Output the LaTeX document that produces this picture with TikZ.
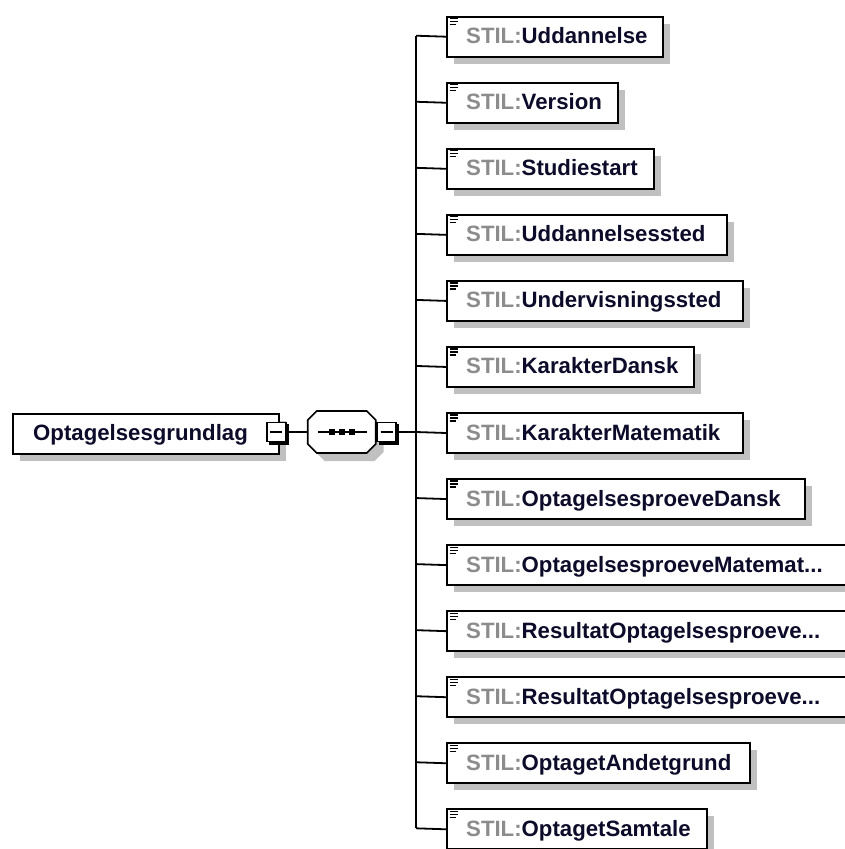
\documentclass[tikz,border=0pt]{standalone}
\usepackage{fontspec}
\setmainfont{Liberation Sans}
\definecolor{shd}{HTML}{C0C0C0}
\definecolor{nmcol}{HTML}{0C0C2A}
\definecolor{precol}{HTML}{8C8C8C}
\newcommand{\myelld}{...}
\begin{document}
\begin{tikzpicture}[x=1pt,y=-1pt,
  elbox/.style={rectangle, draw=black, fill=white, line width=2pt, minimum height=40pt, inner sep=0pt, anchor=north west},
  lbl/.style={anchor=base west, inner sep=0pt, font=\fontsize{22.2}{26}\selectfont\bfseries, text=nmcol},
  conn/.style={line width=1.8pt},
  btn/.style={rectangle, draw=black, fill=white, line width=1.5pt, minimum size=19pt, inner sep=0pt},
  btnshadow/.style={fill=black},
  icon/.style={line width=1.2pt}]
\useasboundingbox (0,0) rectangle (845,849);

% element rows
\foreach \i/\w/\elname in {1/661.7/Uddannelse, 2/617.3/Version, 3/653.3/Studiestart,
  4/726/Uddannelsessted, 5/741.7/Undervisningssted, 6/693.3/KarakterDansk,
  7/741.7/KarakterMatematik, 8/804/OptagelsesproeveDansk,
  9/852/OptagelsesproeveMatemat\myelld, 10/852/ResultatOptagelsesproeve\myelld,
  11/852/ResultatOptagelsesproeve\myelld, 12/749.3/OptagetAndetgrund,
  13/705.7/OptagetSamtale}{
  \pgfmathsetmacro\tp{15.7+66.05*(\i-1)}
  \pgfmathsetmacro\cy{\tp+20}
  \pgfmathsetmacro\bw{\w-446}
  \coordinate (t\i) at (416,\cy);
  \fill[shd] (454,\tp+8) rectangle (\w+8,\tp+48);
  \node[elbox, minimum width=\bw pt] (e\i) at (446,\tp) {};
  \draw[icon] (449.5,\tp+3) -- (457.5,\tp+3);
  \draw[icon] (449.5,\tp+6) -- (457.5,\tp+6);
  \draw[icon] (449.5,\tp+9) -- (455.5,\tp+9);
  \node[lbl] (l\i) at (466,\cy+8) {\textcolor{precol}{STIL:}\elname};
  \draw[conn] (t\i) -- (e\i.west);
}
\draw[conn] (t1) -- (t13);

% root element
\fill[shd] (20,420.7) rectangle (285.7,460.7);
\node[elbox, minimum width=265.7pt] (root) at (12,412.7) {};
\node[lbl] (rootlbl) at (33,440.5) {Optagelsesgrundlag};
\fill[btnshadow] (269,424.3) rectangle (288.8,444.7);
\node[btn] (rbtn) at (276.4,431.9) {};
\draw[line width=1.5pt] (270.4,432) -- (282.4,432);

% sequence compositor
\node[rectangle, inner sep=0pt, minimum width=68pt, minimum height=42pt] (seq) at (341.7,432) {};
\fill[shd] (315.7,428) -- (324.7,419) -- (374.7,419) -- (383.7,428) -- (383.7,452) -- (374.7,461) -- (324.7,461) -- (315.7,452) -- cycle;
\draw[fill=white, line width=1.6pt] (307.7,420) -- (316.7,411) -- (366.7,411) -- (375.7,420) -- (375.7,444) -- (366.7,453) -- (316.7,453) -- (307.7,444) -- cycle;
\draw[line width=1.5pt] (318,432) -- (366.7,432);
\foreach \dx in {332,342,352}{\fill (\dx-2.8,429.2) rectangle (\dx+2.8,434.8);}
\fill[btnshadow] (379.3,424.3) rectangle (399.1,444.7);
\node[btn] (sbtn) at (386.7,431.9) {};
\draw[line width=1.5pt] (380.7,432) -- (392.7,432);

\draw[conn] (rbtn.east) -- (seq.west);
\draw[conn] (sbtn.east) -- (t7);
\end{tikzpicture}
\end{document}
